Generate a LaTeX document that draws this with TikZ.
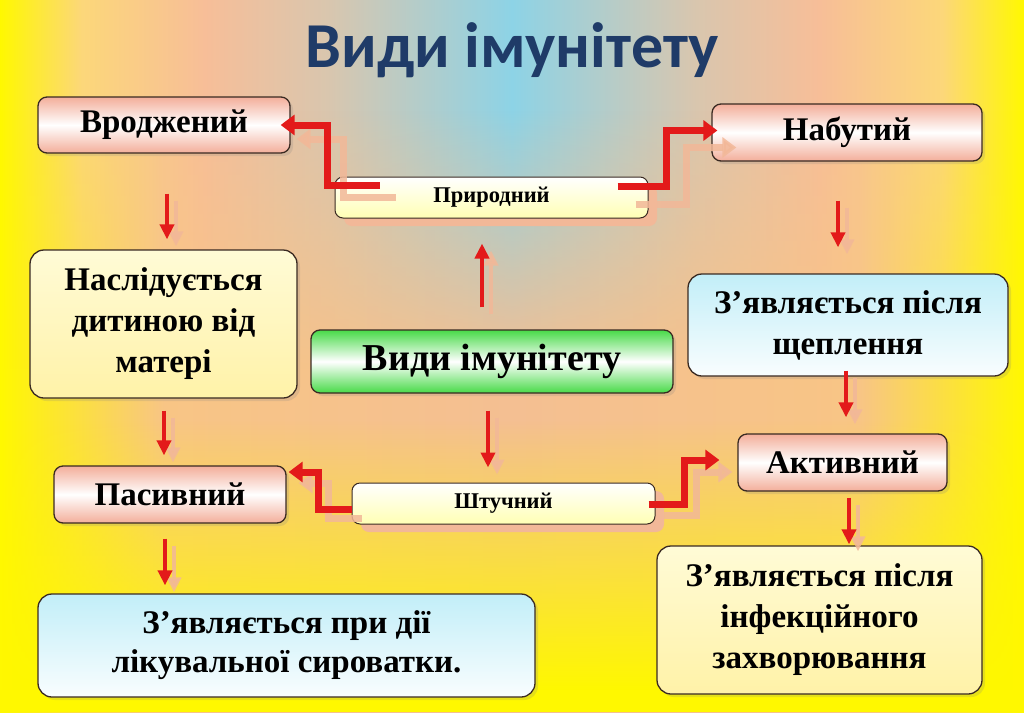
\documentclass[tikz,border=0pt]{standalone}
\usepackage{fontspec}
\setmainfont{Liberation Serif}
\newfontfamily\titlefont{Carlito}
\usetikzlibrary{arrows.meta,calc,fadings,shadows}

\definecolor{byel}{HTML}{FFF800}
\definecolor{lorng}{HTML}{FCD77A}
\definecolor{peach}{HTML}{F7BE98}
\definecolor{beige}{HTML}{D9C6AE}
\definecolor{lblue}{HTML}{8DD3E6}
\definecolor{orng}{HTML}{F8C585}
\definecolor{peachb}{HTML}{F4BF92}
\definecolor{titleblue}{HTML}{1F3B68}
\definecolor{boxline}{HTML}{3A2A22}
\definecolor{pinkc}{HTML}{F3AE9A}
\definecolor{yelbox}{HTML}{FFF2A8}
\definecolor{yelboxtop}{HTML}{FFFBD6}
\definecolor{cyanbox}{HTML}{C2EEF8}
\definecolor{greenc}{HTML}{48DA48}
\definecolor{smallyel}{HTML}{FFFFB4}
\definecolor{arrred}{HTML}{E31A1A}
\definecolor{shcol}{HTML}{F2B898}

\pgfdeclarehorizontalshading{bgtop}{100bp}{color(0bp)=(byel); color(25bp)=(byel);
  color(29bp)=(lorng); color(35bp)=(peach); color(41bp)=(beige); color(50bp)=(lblue);
  color(59bp)=(beige); color(65bp)=(peach); color(71bp)=(lorng); color(75bp)=(byel); color(100bp)=(byel)}
\pgfdeclarehorizontalshading{bgmid}{100bp}{color(0bp)=(byel); color(25bp)=(byel);
  color(33bp)=(orng); color(50bp)=(peachb); color(67bp)=(orng); color(75bp)=(byel); color(100bp)=(byel)}

\tikzfading[name=fadein, top color=transparent!100, bottom color=transparent!0]

\tikzset{
  box/.style={draw=boxline, line width=1.3pt, rounded corners=14pt, align=center,
    inner sep=0pt, text=black, font=\bfseries\fontsize{33}{41}\selectfont,
    drop shadow={opacity=0.2, shadow xshift=3pt, shadow yshift=-3pt}},
  pinkbox/.style={box, rounded corners=9pt, top color=pinkc, bottom color=pinkc, middle color=white},
  yelbox/.style={box, top color=yelboxtop, bottom color=yelbox},
  cyanbox/.style={box, top color=cyanbox, bottom color=white!90!cyanbox},
  greenbox/.style={box, rounded corners=9pt, top color=greenc, bottom color=greenc, middle color=white,
    font=\bfseries\fontsize{38}{44}\selectfont},
  smallbox/.style={draw=boxline, line width=1pt, rounded corners=8pt, align=center, inner sep=0pt,
    top color=white, bottom color=smallyel, font=\bfseries\fontsize{22.5}{26}\selectfont,
    drop shadow={fill=shcol, opacity=1, shadow xshift=9pt, shadow yshift=-8pt}},
  redarr/.style={draw=arrred, line width=4.5pt, -{Triangle[length=15pt,width=14pt]}},
  shadarr/.style={draw=shcol, line width=4.5pt, opacity=0.85, -{Triangle[length=15pt,width=14pt]}},
  redthick/.style={draw=arrred, line width=7pt, line join=miter, -{Triangle[length=14pt,width=20pt]}},
  shadthick/.style={draw=shcol, line width=7pt, line join=miter, opacity=0.85, -{Triangle[length=14pt,width=20pt]}},
}

\newcommand\twinarrow[2]{%
  \draw[shadarr] ([shift={(9,7)}]#1) -- ([shift={(9,7)}]#2);
  \draw[redarr] (#1) -- (#2);}

\begin{document}
\begin{tikzpicture}[x=1pt,y=-1pt]
\useasboundingbox (0,0) rectangle (1024,712);
% ---------- background ----------
\shade[shading=bgtop] (0,0) rectangle (1024,712);
\shade[shading=bgmid, path fading=fadein] (0,110) rectangle (1024,370);
\shade[shading=bgmid] (0,369.5) rectangle (1024,712);
\fill[byel, path fading=fadein] (0,420) rectangle (1024,690);
\fill[byel] (0,689.5) rectangle (1024,712);

% ---------- title ----------
\node[font=\titlefont\bfseries\fontsize{64}{64}\selectfont, text=titleblue] (title) at (512,50) {Види імунітету};

% ---------- boxes ----------
\node[pinkbox, minimum width=252pt, minimum height=56pt] (vrod) at (164,125) {Вроджений};
\node[pinkbox, minimum width=270pt, minimum height=57pt] (nab) at (847,132.5) {Набутий};
\node[smallbox, minimum width=313pt, minimum height=41pt] (pryr) at (491.5,197.5) {Природний};
\node[yelbox, minimum width=267pt, minimum height=148pt] (nasl) at (163.5,324) {Наслідується\\дитиною від\\матері};
\node[greenbox, minimum width=362pt, minimum height=63pt] (vydy) at (492,361.5) {Види імунітету};
\node[cyanbox, minimum width=320pt, minimum height=102pt] (shchep) at (848,325) {З’являється після\\щеплення};
\node[pinkbox, minimum width=232pt, minimum height=57pt] (pas) at (170,494.5) {Пасивний};
\node[smallbox, minimum width=303pt, minimum height=41pt] (shtuch) at (503.5,503.5) {Штучний};
\node[pinkbox, minimum width=209pt, minimum height=57pt] (akt) at (842.5,462.5) {Активний};
\node[cyanbox, minimum width=497pt, minimum height=103pt, font=\bfseries\fontsize{33}{39}\selectfont] (syr) at (286.5,645.5) {З’являється при дії\\лікувальної сироватки.};
\node[yelbox, minimum width=325pt, minimum height=148pt] (infek) at (819.5,620) {З’являється після\\інфекційного\\захворювання};

% ---------- straight arrows ----------
\coordinate (a1) at ($(vrod.south)+(3,40)$);
\coordinate (a2) at ($(nasl.north)+(3.5,-10)$);
\twinarrow{a1}{a2}
\coordinate (b1) at ($(nasl.south)+(0.5,12)$);
\coordinate (b2) at ($(pas.north)+(-6,-10)$);
\twinarrow{b1}{b2}
\coordinate (c1) at ($(pas.south)+(-5,15)$);
\coordinate (c2) at ($(syr.north)+(-121.5,-8)$);
\twinarrow{c1}{c2}
\coordinate (d1) at ($(nab.south)+(-9,39)$);
\coordinate (d2) at ($(shchep.north)+(-10,-26)$);
\twinarrow{d1}{d2}
\coordinate (e1) at ($(shchep.south)+(-2,-6)$);
\coordinate (e2) at ($(akt.north)+(3.5,-16)$);
\twinarrow{e1}{e2}
\coordinate (f1) at ($(akt.south)+(6.5,6)$);
\coordinate (f2) at ($(infek.north)+(29.5,-1)$);
\twinarrow{f1}{f2}
\coordinate (g1) at ($(vydy.north)+(-10,-22)$);
\coordinate (g2) at ($(pryr.south)+(-9.5,25)$);
\twinarrow{g1}{g2}
\coordinate (h1) at ($(vydy.south)+(-4,17)$);
\coordinate (h2) at ($(shtuch.north)+(-15.5,-15)$);
\twinarrow{h1}{h2}

% ---------- elbow arrows ----------
\coordinate (p1) at ($(pryr.north west)+(45,9)$);
\coordinate (p2) at ($(vrod.east)+(-10,0)$);
\draw[shadthick] ([shift={(16,12)}]p1) -| ([shift={(63,14)}]p2) -- ([shift={(16,14)}]p2);
\draw[redthick] (p1) -| ($(p2)+(47,0)$) -- (p2);

\coordinate (q1) at ($(pryr.north east)+(-31,10)$);
\coordinate (q2) at ($(nab.west)+(6,-2)$);
\draw[shadthick] ([shift={(18,18)}]q1) -| ([shift={(-31,17)}]q2) -- ([shift={(19,17)}]q2);
\draw[redthick] (q1) -| ($(q2)+(-51,0)$) -- (q2);

\coordinate (r1) at ($(shtuch.west)+(0,5.5)$);
\coordinate (r2) at ($(pas.east)+(2,-22.5)$);
\draw[shadthick] ([shift={(10,9)}]r1) -| ([shift={(40,11)}]r2) -- ([shift={(10,11)}]r2);
\draw[redthick] (r1) -| ($(r2)+(30,0)$) -- (r2);

\coordinate (s1) at ($(shtuch.east)+(-7,0.5)$);
\coordinate (s2) at ($(akt.west)+(-18,-2.5)$);
\draw[shadthick] ([shift={(12,11)}]s1) -| ([shift={(-23,12)}]s2) -- ([shift={(13,12)}]s2);
\draw[redthick] (s1) -| ($(s2)+(-35,0)$) -- (s2);
\end{tikzpicture}
\end{document}
